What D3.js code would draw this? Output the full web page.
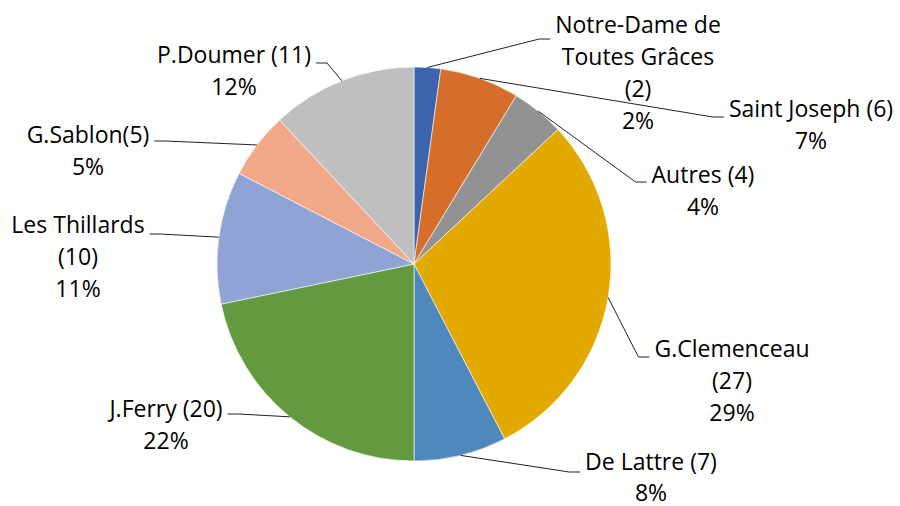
<!DOCTYPE html>
<html>
<head>
<meta charset="utf-8">
<script src="https://cdn.jsdelivr.net/npm/d3@7"></script>
<style>
  body { margin: 0; background: #fff; }
  svg { display: block; }
  text { font-family: "Open Sans", Lato, sans-serif; fill: #000; }
</style>
</head>
<body>
<svg id="pie"></svg>
<script>
// data
const names = ['Notre-Dame de Toutes Grâces', 'Saint Joseph', 'Autres', 'G.Clemenceau', 'De Lattre',
               'J.Ferry', 'Les Thillards', 'G.Sablon', 'P.Doumer'];
const counts = [2, 6, 4, 27, 7, 20, 10, 5, 11];
// label text lines (as shown on the chart)
const labelLines = [
  ['Notre-Dame de', 'Toutes Grâces', '(2)'],
  ['Saint Joseph (6)'],
  ['Autres (4)'],
  ['G.Clemenceau', '(27)'],
  ['De Lattre (7)'],
  ['J.Ferry (20)'],
  ['Les Thillards', '(10)'],
  ['G.Sablon(5)'],
  ['P.Doumer (11)']
];
const colors = ['#3B64AD', '#D46E2A', '#929292', '#E2AA00', '#4F89BC', '#639A3F', '#8FA3D4', '#F0A889', '#BFBFBF'];

//size
const width = 900;
const height = 506;
const cx = 414, cy = 264, radius = 197;
const lineH = 32;

// label layout: text centre x, first baseline y, side of the pie, leader y
const labelLayout = [
  { x: 638, y: 33,  side: 'right', ly: 39 },
  { x: 811, y: 117, side: 'right', ly: 117 },
  { x: 703, y: 183, side: 'right', ly: 182 },
  { x: 732, y: 357, side: 'right', ly: 357 },
  { x: 651, y: 470, side: 'right', ly: 472 },
  { x: 166, y: 417, side: 'left',  ly: 414 },
  { x: 78,  y: 233, side: 'left',  ly: 234 },
  { x: 88,  y: 143, side: 'left',  ly: 141 },
  { x: 234, y: 63,  side: 'left',  ly: 63 }
];

const total = d3.sum(counts);
const fmtPct = d => `${Math.round(d / total * 100)}%`;

const svg = d3.select('#pie')
  .attr('width', width)
  .attr('height', height);

const pie = d3.pie().sort(null).value(d => d)(counts);
const arc = d3.arc().innerRadius(0).outerRadius(radius);

const g = svg.append('g').attr('transform', `translate(${cx},${cy})`);

g.selectAll('path.slice')
  .data(pie)
  .enter().append('path')
    .attr('class', 'slice')
    .attr('d', arc)
    .style('fill', (d, i) => colors[i])
    .style('stroke', '#fff')
    .style('stroke-width', 0.6);

//labels
const labels = svg.append('g').selectAll('g.label')
  .data(pie)
  .enter().append('g')
    .attr('class', 'label');

labels.append('text')
  .attr('text-anchor', 'middle')
  .style('font-size', '23px')
  .each(function (d, i) {
    const t = d3.select(this);
    const lines = labelLines[i].concat([fmtPct(d.value)]);
    lines.forEach((s, k) => {
      t.append('tspan')
        .attr('x', labelLayout[i].x)
        .attr('y', labelLayout[i].y + k * (i === 4 ? 31 : lineH))
        .text(s);
    });
  });

// leader lines: from slice edge to an elbow, then a short horizontal run to the label
labels.each(function (d, i) {
  const lay = labelLayout[i];
  const first = d3.select(this).select('tspan').node();
  const w = first.getComputedTextLength();
  const mid = (d.startAngle + d.endAngle) / 2;
  const px = cx + radius * Math.sin(mid);
  const py = cy - radius * Math.cos(mid);
  const ex = lay.side === 'right' ? lay.x - w / 2 - 5 : lay.x + w / 2 + 5;
  const elbow = lay.side === 'right' ? ex - 11 : ex + 11;
  d3.select(this).append('polyline')
    .attr('points', `${px},${py} ${elbow},${lay.ly} ${ex},${lay.ly}`)
    .style('fill', 'none')
    .style('stroke', '#222')
    .style('stroke-width', 1);
});
</script>
</body>
</html>
